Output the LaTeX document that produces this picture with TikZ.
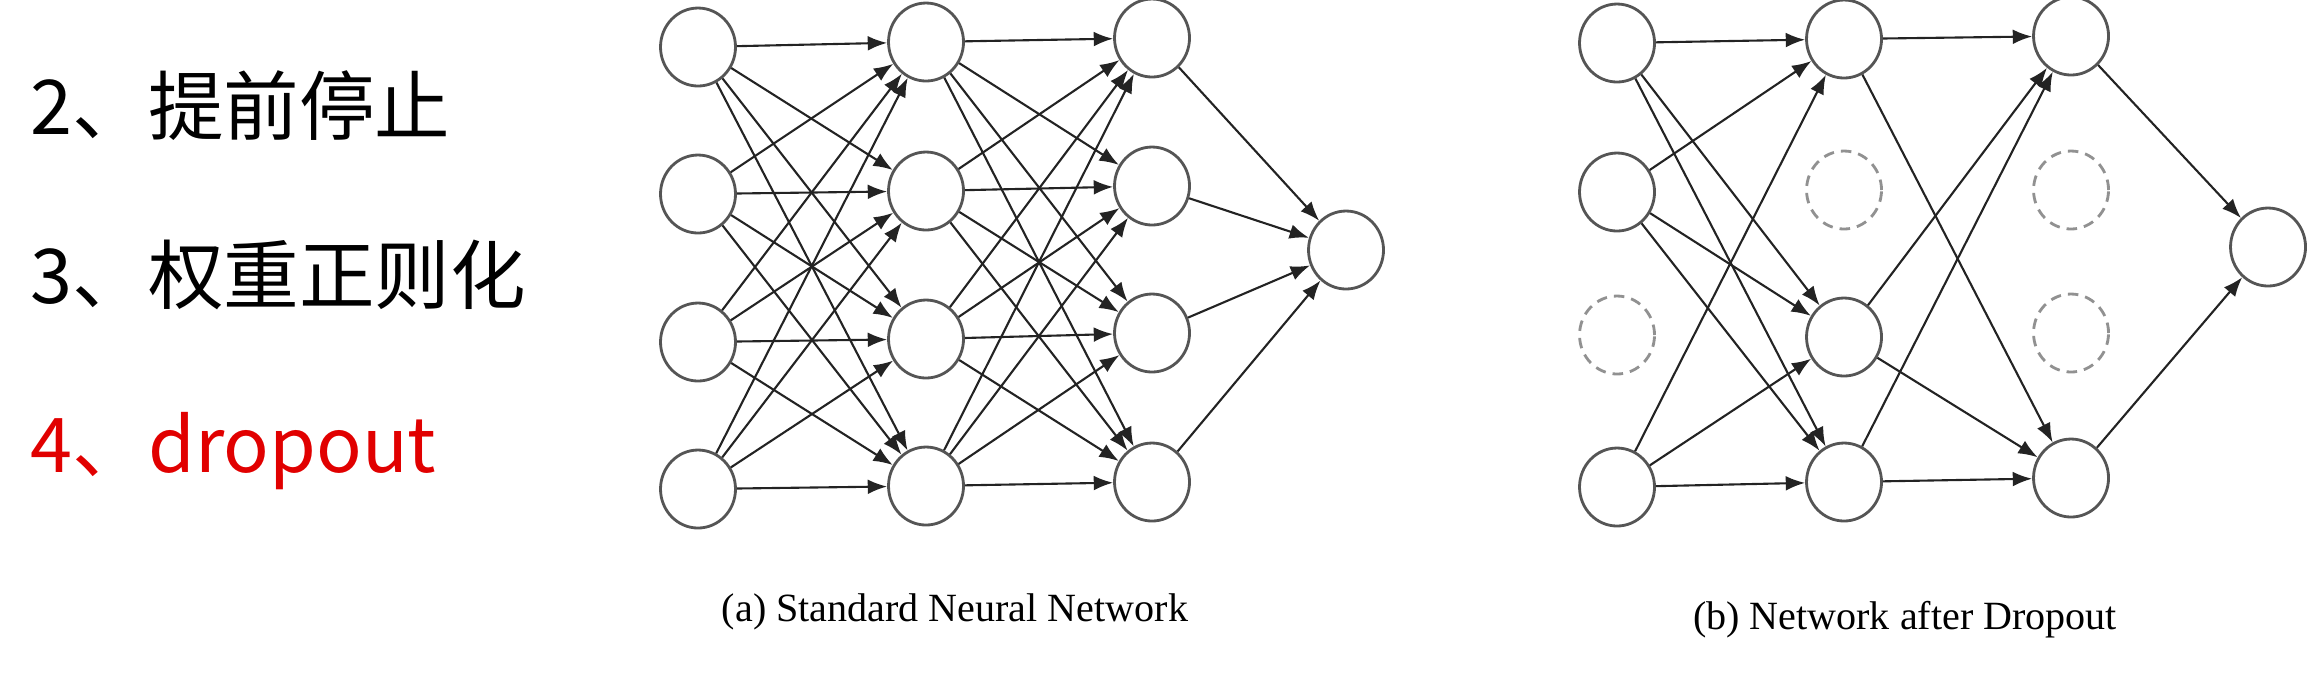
\documentclass[tikz,border=0pt]{standalone}
\usepackage{fontspec}
\setmainfont{Liberation Serif}
\newfontfamily\cjkfont{Noto Sans CJK SC}
\usepackage{xcolor}
\usetikzlibrary{arrows.meta,shapes.geometric}

\definecolor{linegray}{RGB}{35,35,35}
\definecolor{ringgray}{RGB}{85,85,85}
\definecolor{dropgray}{RGB}{145,145,145}
\definecolor{itemred}{RGB}{225,0,0}

\begin{document}
\begin{tikzpicture}[>={Latex[length=5.5pt,width=4.2pt]},
  neuron/.style={ellipse,draw=ringgray,line width=0.8pt,fill=white,minimum width=0.75cm,minimum height=0.78cm,inner sep=0pt},
  dropped/.style={neuron,draw=dropgray,dash pattern=on 3pt off 2pt},
  link/.style={->,draw=linegray,line width=0.6pt},
  item/.style={font=\cjkfont\fontsize{21.5pt}{25pt}\selectfont,anchor=base west,inner sep=0pt},
  caption/.style={font=\fontsize{11.4pt}{13pt}\selectfont,inner sep=0pt}]
 \useasboundingbox (0,0) rectangle (23.13,-6.74);
 % --- list on the left ---
 \node[item] (i2) at (0.30,-1.34) {2、提前停止};
 \node[item] (i3) at (0.30,-3.03) {3、权重正则化};
 \node[item,text=itemred] (i4) at (0.30,-4.72) {4、dropout};
 % --- (a) standard network ---
 \foreach \i/\y in {1/0.47,2/1.94,3/3.42,4/4.89} \node[neuron] (a\i) at (6.98,-\y) {};
 \foreach \i/\y in {1/0.42,2/1.91,3/3.39,4/4.86} \node[neuron] (b\i) at (9.26,-\y) {};
 \foreach \i/\y in {1/0.38,2/1.86,3/3.33,4/4.82} \node[neuron] (c\i) at (11.52,-\y) {};
 \node[neuron] (ao) at (13.46,-2.50) {};
 \foreach \i in {1,...,4} \foreach \j in {1,...,4} {\draw[link] (a\i) -- (b\j); \draw[link] (b\i) -- (c\j);}
 \foreach \i in {1,...,4} \draw[link] (c\i) -- (ao);
 \node[caption] (capa) at (9.55,-6.12) {(a) Standard Neural Network};
 % --- (b) after dropout ---
 \foreach \i/\y in {1/0.43,2/1.92,4/4.87} \node[neuron] (p\i) at (16.17,-\y) {};
 \node[dropped] (p3) at (16.17,-3.35) {};
 \foreach \i/\y in {1/0.39,3/3.37,4/4.82} \node[neuron] (q\i) at (18.44,-\y) {};
 \node[dropped] (q2) at (18.44,-1.90) {};
 \foreach \i/\y in {1/0.36,4/4.78} \node[neuron] (r\i) at (20.71,-\y) {};
 \foreach \i/\y in {2/1.90,3/3.33} \node[dropped] (r\i) at (20.71,-\y) {};
 \node[neuron] (po) at (22.68,-2.47) {};
 \foreach \i in {1,2,4} \foreach \j in {1,3,4} \draw[link] (p\i) -- (q\j);
 \foreach \i in {1,3,4} \foreach \j in {1,4} \draw[link] (q\i) -- (r\j);
 \foreach \i in {1,4} \draw[link] (r\i) -- (po);
 \node[caption] (capb) at (19.05,-6.20) {(b) Network after Dropout};
\end{tikzpicture}
\end{document}
